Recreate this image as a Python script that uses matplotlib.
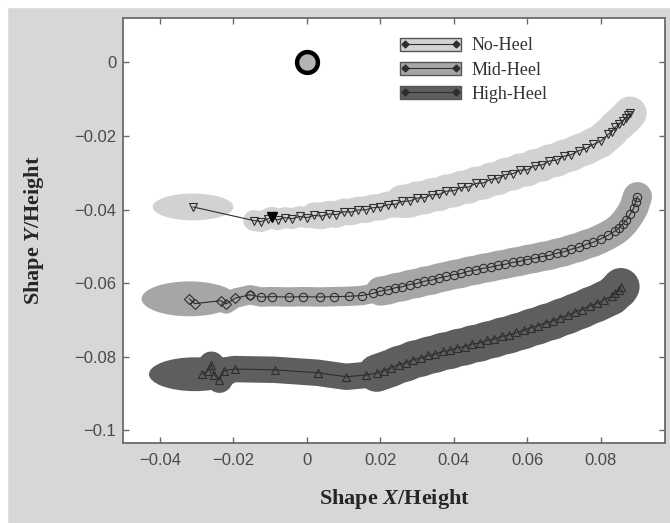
import matplotlib
matplotlib.use('Agg')
import matplotlib.pyplot as plt
from matplotlib.patches import Ellipse, Patch, Rectangle
from matplotlib.lines import Line2D
from matplotlib.legend_handler import HandlerTuple

# --- datos ---
# No-Heel (triangulos hacia abajo)
nx = [-0.031, -0.0145, -0.0125, -0.0105, -0.0095, -0.008, -0.006, -0.004, -0.002,
      0.0, 0.002, 0.004, 0.006, 0.008, 0.010, 0.012, 0.014, 0.016, 0.018, 0.020,
      0.022, 0.024, 0.026, 0.028, 0.030, 0.032, 0.034, 0.036, 0.038, 0.040,
      0.042, 0.044, 0.046, 0.048, 0.050, 0.052, 0.054, 0.056, 0.058, 0.060,
      0.062, 0.064, 0.066, 0.068, 0.070, 0.072, 0.074, 0.076, 0.078, 0.080,
      0.082, 0.083, 0.084, 0.085, 0.086, 0.087, 0.0875, 0.088]
ny = [-0.0393, -0.0430, -0.0433, -0.0425, -0.0421, -0.0428, -0.0422, -0.0425, -0.0419,
      -0.0422, -0.0416, -0.0418, -0.0412, -0.0414, -0.0406, -0.0407, -0.0401, -0.0401, -0.0395, -0.0394,
      -0.0387, -0.0386, -0.0378, -0.0377, -0.0369, -0.0368, -0.0360, -0.0359, -0.0350, -0.0349,
      -0.0340, -0.0339, -0.0329, -0.0328, -0.0318, -0.0316, -0.0305, -0.0303, -0.0293, -0.0292,
      -0.0281, -0.0279, -0.0268, -0.0266, -0.0255, -0.0251, -0.0240, -0.0234, -0.0223, -0.0214,
      -0.0196, -0.0188, -0.0176, -0.0168, -0.0158, -0.0150, -0.0143, -0.0138]

# Mid-Heel (rombos al inicio, luego circulos)
mx = [-0.032, -0.0305, -0.0235, -0.022, -0.0195,
      -0.0155, -0.0125, -0.0095, -0.005, -0.001, 0.0035, 0.0075, 0.0115, 0.015, 0.018,
      0.020, 0.022, 0.024, 0.026, 0.028, 0.030, 0.032, 0.034, 0.036, 0.038, 0.040,
      0.042, 0.044, 0.046, 0.048, 0.050, 0.052, 0.054, 0.056, 0.058, 0.060, 0.062,
      0.064, 0.066, 0.068, 0.070, 0.072, 0.074, 0.076, 0.078, 0.080, 0.082, 0.084,
      0.085, 0.086, 0.087, 0.088, 0.089, 0.0895, 0.090]
my = [-0.0643, -0.0656, -0.0648, -0.0657, -0.0641,
      -0.0632, -0.0638, -0.0637, -0.0638, -0.0637, -0.0638, -0.0637, -0.0636, -0.0634, -0.0628,
      -0.0622, -0.0619, -0.0613, -0.0610, -0.0604, -0.0601, -0.0595, -0.0592, -0.0586, -0.0582, -0.0577,
      -0.0574, -0.0568, -0.0565, -0.0560, -0.0557, -0.0552, -0.0549, -0.0544, -0.0541, -0.0536, -0.0533,
      -0.0528, -0.0525, -0.0519, -0.0515, -0.0508, -0.0503, -0.0495, -0.0489, -0.0480, -0.0470, -0.0458,
      -0.0450, -0.0440, -0.0428, -0.0413, -0.0396, -0.0380, -0.0365]

# High-Heel (triangulos hacia arriba)
hx = [-0.0285, -0.027, -0.026, -0.0252, -0.0238, -0.0225, -0.0197, -0.0088, 0.0029, 0.0107,
      0.0162, 0.019, 0.021, 0.023, 0.025, 0.027, 0.029, 0.031, 0.033, 0.035,
      0.037, 0.039, 0.041, 0.043, 0.045, 0.047, 0.049, 0.051, 0.053, 0.055,
      0.057, 0.059, 0.061, 0.063, 0.065, 0.067, 0.069, 0.071, 0.073, 0.075,
      0.077, 0.079, 0.081, 0.083, 0.084, 0.085, 0.0855]
hy = [-0.0848, -0.0838, -0.0822, -0.0850, -0.0863, -0.0838, -0.0834, -0.0836, -0.0844, -0.0855,
      -0.0850, -0.0845, -0.0838, -0.0831, -0.0822, -0.0817, -0.0808, -0.0804, -0.0797, -0.0793,
      -0.0786, -0.0783, -0.0776, -0.0773, -0.0766, -0.0763, -0.0756, -0.0752, -0.0745, -0.0741,
      -0.0734, -0.0729, -0.0721, -0.0716, -0.0708, -0.0703, -0.0694, -0.0688, -0.0679, -0.0672,
      -0.0662, -0.0655, -0.0645, -0.0636, -0.0626, -0.0618, -0.0610]

origen = (0.0, 0.0)
series = ['No-Heel', 'Mid-Heel', 'High-Heel']
xticks = [-0.04, -0.02, 0, 0.02, 0.04, 0.06, 0.08]
xticklabels = ['\u22120.04', '\u22120.02', '0', '0.02', '0.04', '0.06', '0.08']
yticks = [0, -0.02, -0.04, -0.06, -0.08, -0.1]
yticklabels = ['0', '\u22120.02', '\u22120.04', '\u22120.06', '\u22120.08', '\u22120.1']

# colores
c_no, c_mid, c_high = '#d2d2d2', '#a6a6a6', '#5e5e5e'
c_linea = '#2e2e2e'

plt.rcParams['mathtext.fontset'] = 'custom'
plt.rcParams['mathtext.rm'] = 'Liberation Serif'
plt.rcParams['mathtext.bf'] = 'Liberation Serif:bold'
plt.rcParams['mathtext.bfit'] = 'Liberation Serif:italic:bold'
plt.rcParams['mathtext.it'] = 'Liberation Serif:italic'

fig = plt.figure(figsize=(6.7, 5.23), dpi=100, facecolor='#d7d7d7')
ax = fig.add_axes([0.184, 0.153, 0.8085, 0.812])
# bordes blancos arriba e izquierda
fig.patches.append(Rectangle((0, 0.987), 1, 0.013, transform=fig.transFigure, color='white', zorder=0))
fig.patches.append(Rectangle((0, 0), 0.011, 1, transform=fig.transFigure, color='white', zorder=0))

cap = dict(solid_capstyle='round', solid_joinstyle='round')

# bandas sombreadas
ax.plot(nx[1:13], ny[1:13], color=c_no, lw=15, zorder=1, **cap)
ax.plot(nx[10:24], ny[10:24], color=c_no, lw=19, zorder=1, **cap)
ax.plot(nx[22:], ny[22:], color=c_no, lw=24, zorder=1, **cap)
ax.add_patch(Ellipse((nx[0], ny[0]), 0.022, 0.0073, color=c_no, zorder=1, lw=0))

ax.plot(mx[:16], my[:16], color=c_mid, lw=14, zorder=1, **cap)
ax.plot(mx[15:], my[15:], color=c_mid, lw=21, zorder=1, **cap)
ax.add_patch(Ellipse((mx[0], my[0]), 0.026, 0.0095, color=c_mid, zorder=1, lw=0))

ax.plot(hx[:12], hy[:12], color=c_high, lw=19, zorder=1, **cap)
ax.plot(hx[11:], hy[11:], color=c_high, lw=27, zorder=1, **cap)
ax.add_patch(Ellipse((hx[0] - 0.002, hy[0]), 0.025, 0.0092, color=c_high, zorder=1, lw=0))

# trayectorias con marcadores
mk = dict(color=c_linea, lw=0.8, mfc='none', mec=c_linea, mew=0.8, ms=6, zorder=3)
ax.plot(nx, ny, marker='v', **mk)
ax.plot(nx[4], ny[4], marker='v', ms=7, color='black', zorder=4)
ax.plot(mx[:6], my[:6], marker='D', **dict(mk, ms=5))
ax.plot(mx[5:], my[5:], marker='o', **mk)
ax.plot(hx, hy, marker='^', **mk)

# origen
ax.plot(*origen, marker='o', ms=15, mfc='#b4b4b4', mec='black', mew=3.2, zorder=5)

ax.set_xlim(-0.050, 0.0975)
ax.set_ylim(-0.1035, 0.012)
ax.set_xticks(xticks)
ax.set_xticklabels(xticklabels)
ax.set_yticks(yticks)
ax.set_yticklabels(yticklabels)
ax.tick_params(direction='in', length=4, width=1, colors='#6a6a6a', labelcolor='#4a4a4a',
               labelsize=12, top=True, right=True, pad=7)
for lab in ax.get_xticklabels() + ax.get_yticklabels():
    lab.set_family('Liberation Sans')
ax.tick_params(axis='y', pad=5)
for s in ax.spines.values():
    s.set_color('#6a6a6a')
    s.set_linewidth(1.3)

ax.set_xlabel(r'Shape $\mathbfit{X}$/Height', family='Liberation Serif', fontweight='bold',
              fontsize=16, color='#262626', labelpad=14)
ax.set_ylabel(r'Shape $\mathbfit{Y}$/Height', family='Liberation Serif', fontweight='bold',
              fontsize=16, color='#262626', labelpad=20)

# leyenda: banda gris con linea y puntas encima
handles = []
for col in [c_no, c_mid, c_high]:
    handles.append((Patch(facecolor=col, edgecolor='#555555', lw=1.0),
                    Line2D([], [], color=c_linea, lw=0.8, marker='D', ms=3.5)))
leg = ax.legend(handles, series, loc='upper left', bbox_to_anchor=(0.51, 0.955),
                frameon=False, borderpad=0, borderaxespad=0, handlelength=3.4,
                handleheight=0.75, handletextpad=0.6, labelspacing=0.4, numpoints=2,
                prop={'family': 'Liberation Serif', 'size': 13},
                handler_map={tuple: HandlerTuple(ndivide=1, pad=0)})
for t in leg.get_texts():
    t.set_color('#333333')

fig.savefig('out.png', dpi=100, facecolor=fig.get_facecolor())
